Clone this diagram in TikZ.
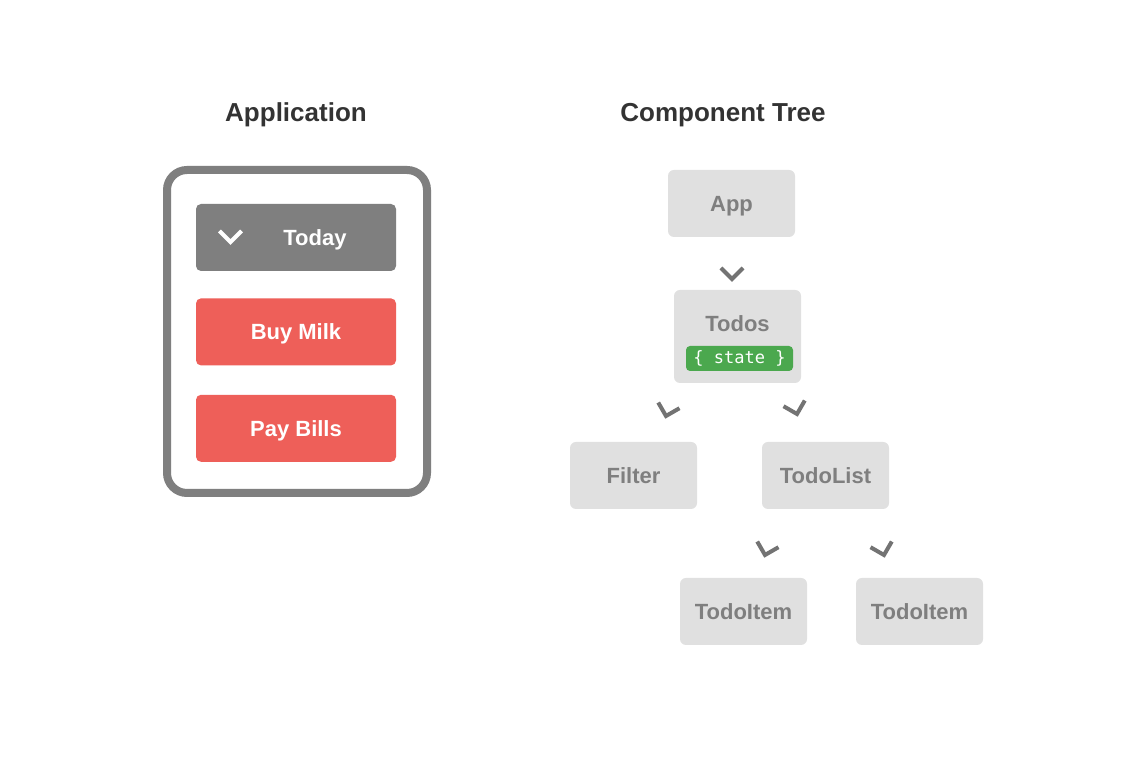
\documentclass[tikz,border=0pt]{standalone}
\usepackage{fontspec}
\setmainfont{Liberation Sans}
\newfontfamily\statefont{DejaVu Sans Mono}
\usetikzlibrary{positioning,calc}

\definecolor{framegray}{HTML}{7F7F7F}
\definecolor{titlegray}{HTML}{333333}
\definecolor{boxgray}{HTML}{E0E0E0}
\definecolor{todored}{HTML}{EE5F59}
\definecolor{stategreen}{HTML}{4BA84E}
\definecolor{chevgray}{HTML}{737373}

\begin{document}
\begin{tikzpicture}[x=1pt,y=1pt,
  title/.style={font=\fontsize{26}{30}\selectfont\bfseries, text=titlegray, anchor=base},
  btn/.style={rounded corners=5pt, minimum width=200pt, minimum height=67pt, inner sep=0pt,
    font=\fontsize{22}{26}\selectfont\bfseries, text=white, text height=15.75pt, text depth=0pt},
  comp/.style={fill=boxgray, rounded corners=6pt, minimum width=127pt, minimum height=67pt, inner sep=0pt,
    font=\fontsize{22}{26}\selectfont\bfseries, text=framegray, text height=15.75pt, text depth=0pt},
  chev/.pic={\draw[line width=4pt, pic actions] (-11,11) -- (0,0) -- (11,11);}
]
\fill[white] (0,0) rectangle (1128,770);
\useasboundingbox (0,0) rectangle (1128,770);

% left side: the app
\node[title] (apptitle) at (296,648) {Application};
\node[draw=framegray, line width=8pt, rounded corners=20pt, minimum width=260pt, minimum height=323pt] (phone) at (297,438.5) {};
\node[btn, fill=framegray] (today) at (296,532.5) {};
\node[btn, minimum width=0pt] (todaytext) at (315,532.5) {Today};
\pic[white] at (230.5,528) {chev};
\node[btn, fill=todored, below=27pt of today] (buymilk) {Buy Milk};
\node[btn, fill=todored, below=29pt of buymilk] (paybills) {Pay Bills};

% right side: the tree
\node[title] (treetitle) at (723,648) {Component Tree};
\node[comp] (app) at (731.5,566.5) {App};
\node[comp, minimum height=93pt] (todos) at (737.5,433.5) {};
\node[comp, fill=none] (todostext) at (737.5,446.7) {Todos};
\node[fill=stategreen, rounded corners=4pt, minimum width=107pt, minimum height=25pt, inner sep=0pt,
  text=white, font=\statefont\fontsize{17}{20}\selectfont] (state) at (739.5,411.5) {\{ state \}};
\node[comp] (filter) at (633.5,294.5) {Filter};
\node[comp] (todolist) at (825.5,294.5) {TodoList};
\node[comp] (itema) at (743.5,158.5) {TodoItem};
\node[comp] (itemb) at (919.5,158.5) {TodoItem};

\pic[chevgray] at (732,491) {chev};
\pic[chevgray, rotate=-15] at (666,354) {chev};
\pic[chevgray, rotate=15] at (797,356) {chev};
\pic[chevgray, rotate=-15] at (765,215) {chev};
\pic[chevgray, rotate=15] at (884,215) {chev};
\end{tikzpicture}
\end{document}
